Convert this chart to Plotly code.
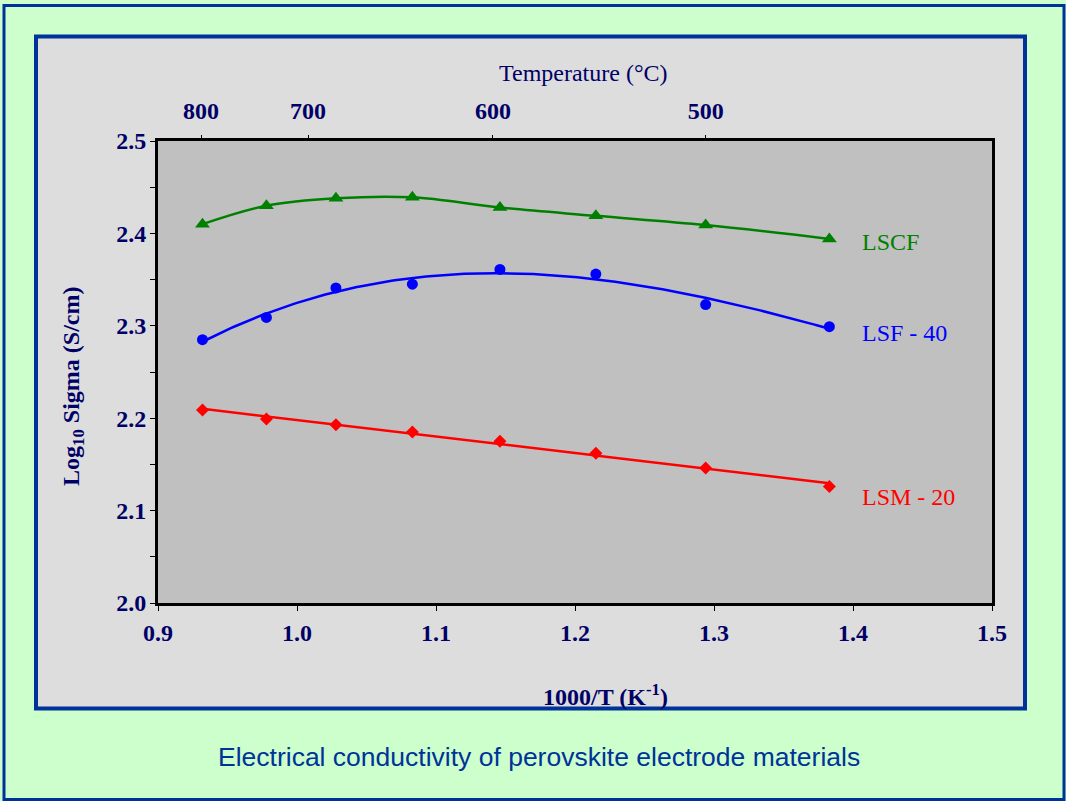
import numpy as np
import plotly.graph_objects as go

# ---------------- data ----------------
inv_T = [0.932, 0.978, 1.028, 1.083, 1.146, 1.215, 1.294, 1.383]   # 1000/T (K^-1)
lscf = [2.410, 2.430, 2.438, 2.439, 2.428, 2.419, 2.409, 2.394]
lsf40 = [2.285, 2.309, 2.341, 2.345, 2.361, 2.356, 2.323, 2.299]
lsm20 = [2.209, 2.199, 2.193, 2.185, 2.175, 2.162, 2.146, 2.126]

series_names = ["LSCF", "LSF - 40", "LSM - 20"]
fit_orders = [None, 3, 1]          # None -> smoothed line through the points

temp_tick_labels = ["800", "700", "600", "500"]
temp_tick_pos = [0.931, 1.008, 1.141, 1.294]   # positions on the 1000/T scale as drawn

x_ticks = [0.9, 1.0, 1.1, 1.2, 1.3, 1.4, 1.5]
y_ticks = [2.0, 2.1, 2.2, 2.3, 2.4, 2.5]

# ---------------- styling ----------------
W, H = 1066, 801
L, R, T, B = 158, 992, 141, 603   # plot-area pixel box
NAVY = "#000066"
BORDER = "#003399"
SERIF = "Liberation Serif, Times New Roman, serif"
SANS = "Liberation Sans, Arial, sans-serif"
colors = ["#008000", "#0000ff", "#ff0000"]
symbols = ["triangle-up", "circle", "diamond"]
msizes = [13, 11, 10]


def px(x):
    return (x - L) / (R - L)


def py(y):
    return (B - y) / (B - T)


fig = go.Figure()

for vals, name, col, sym, ms, order in zip([lscf, lsf40, lsm20], series_names, colors,
                                            symbols, msizes, fit_orders):
    if order is None:
        fig.add_trace(go.Scatter(x=inv_T, y=vals, mode="lines", line_shape="spline",
                                 line=dict(color=col, width=2.5, smoothing=1.0),
                                 hoverinfo="skip", name=name + " line"))
    else:
        coef = np.polyfit(inv_T, vals, order)
        xf = np.linspace(inv_T[0], inv_T[-1], 200)
        fig.add_trace(go.Scatter(x=xf, y=np.polyval(coef, xf), mode="lines",
                                 line=dict(color=col, width=2.5), hoverinfo="skip",
                                 name=name + " fit"))
    fig.add_trace(go.Scatter(x=inv_T, y=vals, mode="markers", name=name,
                             marker=dict(color=col, symbol=sym, size=ms)))

# invisible trace for top (temperature) axis
fig.add_trace(go.Scatter(x=[inv_T[0]], y=[lscf[0]], xaxis="x2", mode="markers",
                         marker=dict(opacity=0), hoverinfo="skip", showlegend=False))

tickfont = dict(family=SERIF, size=24, color=NAVY, weight="bold")

fig.update_layout(
    width=W, height=H,
    margin=dict(l=L, r=W - R, t=T, b=H - B, pad=0),
    paper_bgcolor="#ccffcc",
    plot_bgcolor="rgba(0,0,0,0)",
    showlegend=False,
    xaxis=dict(range=[0.9, 1.5], tickvals=x_ticks, tickformat=".1f",
               ticks="outside", ticklen=5, tickwidth=1, tickcolor="black",
               showline=True, linewidth=3, linecolor="black", mirror=True,
               showgrid=False, zeroline=False, tickfont=tickfont,
               ticklabelstandoff=1),
    xaxis2=dict(range=[0.9, 1.5], overlaying="x", side="top",
                tickvals=temp_tick_pos, ticktext=temp_tick_labels,
                ticks="outside", ticklen=5, tickwidth=1, tickcolor="black",
                showline=False, showgrid=False, zeroline=False, tickfont=tickfont,
                ticklabelstandoff=6),
    yaxis=dict(range=[2.0, 2.5], tickvals=y_ticks, tickformat=".1f",
               ticks="outside", ticklen=5, tickwidth=1, tickcolor="black",
               minor=dict(dtick=0.05, ticks="outside", ticklen=5, tickcolor="black", tickwidth=1),
               showline=True, linewidth=3, linecolor="black", mirror=True,
               showgrid=False, zeroline=False, tickfont=tickfont,
               ticklabelstandoff=-1),
)

shapes = [
    # outer border
    dict(type="rect", xref="paper", yref="paper", x0=px(4), x1=px(1064), y0=py(5.5), y1=py(799.5),
         line=dict(color=BORDER, width=3), fillcolor="rgba(0,0,0,0)", layer="below"),
    # inner panel
    dict(type="rect", xref="paper", yref="paper", x0=px(36), x1=px(1025), y0=py(36.5), y1=py(708.5),
         line=dict(color=BORDER, width=4), fillcolor="#dddddd", layer="below"),
    # plot area fill
    dict(type="rect", xref="paper", yref="paper", x0=0, x1=1, y0=0, y1=1,
         line=dict(width=0), fillcolor="#c0c0c0", layer="below"),
]
fig.update_layout(shapes=shapes)

ann = [
    dict(text="Temperature (°C)", x=px(583), y=py(73), font=dict(family=SERIF, size=24, color=NAVY)),
    dict(text="<b>1000/T (K<sup>-1</sup>)</b>", x=px(605), y=py(695), font=dict(family=SERIF, size=24, color=NAVY)),
    dict(text="<b>Log<sub>10</sub> Sigma (S/cm)</b>", x=px(73), y=py(387), textangle=-90,
         font=dict(family=SERIF, size=24, color=NAVY)),
    dict(text="Electrical conductivity of perovskite electrode materials", x=px(539), y=py(757),
         font=dict(family=SANS, size=26.5, color=BORDER)),
]
for t_, yy, col in zip(series_names, [242, 333, 497], colors):
    ann.append(dict(text=t_, x=px(860), y=py(yy), xanchor="left",
                    font=dict(family=SERIF, size=24, color=col)))
for a in ann:
    a.setdefault("xanchor", "center")
    a.update(xref="paper", yref="paper", yanchor="middle", showarrow=False)
fig.update_layout(annotations=ann)

fig.write_html("out.html", config={"displayModeBar": False},
               post_script="document.body.style.margin='0';document.body.style.overflow='hidden';")
